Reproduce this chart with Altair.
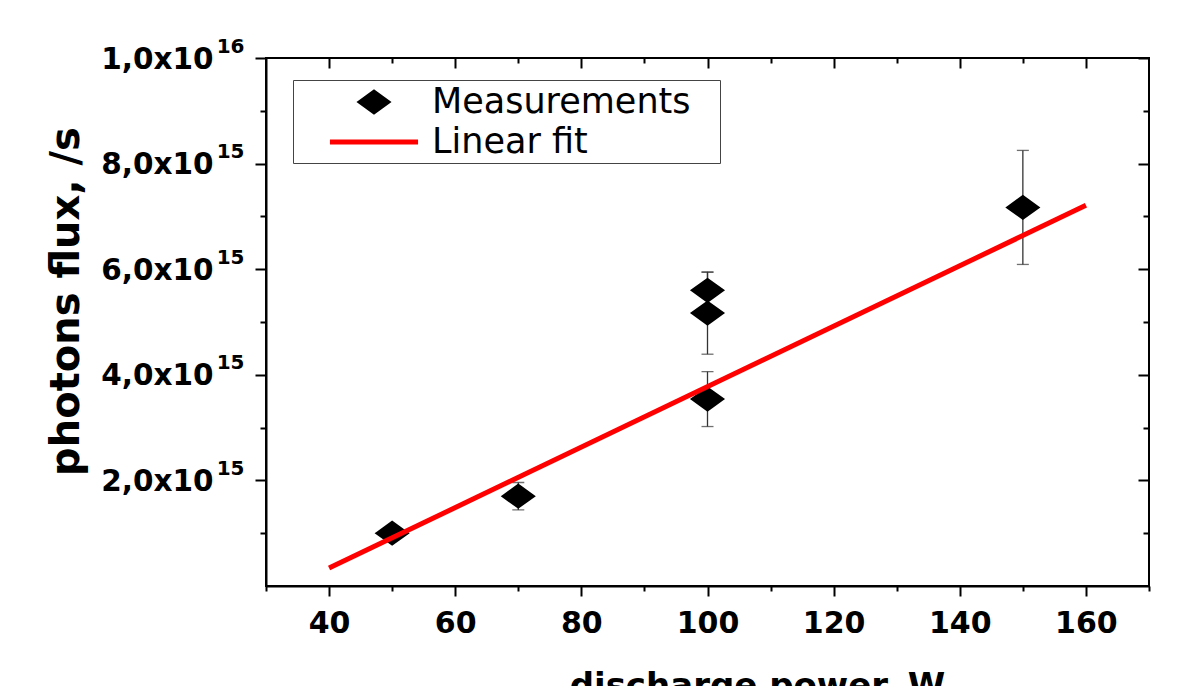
import altair as alt
import pandas as pd

# ---- data ----
x_power = [50, 70, 100, 100, 100, 150]
y_flux = [1.00e15, 1.70e15, 5.60e15, 5.17e15, 3.54e15, 7.17e15]
y_err = [0.08e15, 0.26e15, 0.34e15, 0.78e15, 0.52e15, 1.08e15]

fit_x = [40, 160]
fit_y = [0.34e15, 7.21e15]

series_names = ["Measurements", "Linear fit"]

x_major = [40, 60, 80, 100, 120, 140, 160]
x_minor = [30, 50, 70, 90, 110, 130, 150, 170]
y_major = [2e15, 4e15, 6e15, 8e15, 1e16]
y_minor = [1e15, 3e15, 5e15, 7e15, 9e15]
y_mantissa = ["2,0x10", "4,0x10", "6,0x10", "8,0x10", "1,0x10"]
y_exponent = ["15", "15", "15", "15", "16"]

FONT = "DejaVu Sans"
# diamond drawn with a 5px outline; legend line as a long custom path
DIAMOND = "M-0.804,0L0,-0.579L0.804,0L0,0.579Z"
LINE_SYM = "M-2.67,0L2.67,0"

meas = pd.DataFrame({"power": x_power, "flux": y_flux, "err": y_err,
                     "series": series_names[0]})
fit = pd.DataFrame({"power": fit_x, "flux": fit_y})

vals_js = "[" + ",".join(repr(v) for v in y_major) + "]"
mant_js = "[" + ",".join("'" + s + "'" for s in y_mantissa) + "]"
exp_js = "[" + ",".join("'" + s + "'" for s in y_exponent) + "]"
mant_expr = f"{mant_js}[indexof({vals_js}, datum.value)]"
exp_expr = f"{exp_js}[indexof({vals_js}, datum.value)]"

xs = alt.Scale(domain=[30, 170], nice=False, zero=False)
ys = alt.Scale(domain=[0, 1e16], nice=False, zero=False)

tick_style = dict(tickColor="black", tickWidth=2, grid=False)

x_bottom = alt.Axis(orient="bottom", values=x_major, tickSize=10, domain=True,
                    domainColor="black", domainWidth=2,
                    labelFont=FONT, labelFontSize=30, labelFontWeight="bold",
                    labelColor="black", labelPadding=12, format="d",
                    labelFlush=False, labelOverlap=False,
                    title="discharge power, W", titleFont=FONT, titleFontSize=34,
                    titleFontWeight="bold", titleColor="black", titleX=491,
                    titleY=110, titleBaseline="alphabetic", titleAlign="center",
                    **tick_style)
x_bottom_minor = alt.Axis(orient="bottom", values=x_minor, tickSize=5,
                          labels=False, domain=False, title=None, **tick_style)
x_top_major = alt.Axis(orient="top", values=x_major, tickSize=10, offset=-10,
                       labels=False, domain=False, title=None, **tick_style)
x_top_minor = alt.Axis(orient="top", values=x_minor[1:-1], tickSize=5, offset=-5,
                       labels=False, domain=False, title=None, **tick_style)

y_left = alt.Axis(orient="left", values=y_major, tickSize=11, domain=True,
                  domainColor="black", domainWidth=2, labelExpr=mant_expr,
                  labelFont=FONT, labelFontSize=29.5, labelFontWeight="bold",
                  labelColor="black", labelPadding=42, labelOverlap=False,
                  labelFlush=False, labelOffset=1,
                  title="photons flux, /s", titleFont=FONT, titleFontSize=40,
                  titleFontWeight="bold", titleColor="black", titleAngle=270,
                  titleX=-188, titleY=243, titleBaseline="alphabetic",
                  titleAlign="center", **tick_style)
y_left_sup = alt.Axis(orient="left", values=y_major, ticks=False, tickSize=0,
                      domain=False, labelExpr=exp_expr, labelFont=FONT,
                      labelFontSize=20, labelFontWeight="bold", labelColor="black",
                      labelPadding=22, labelOffset=-12, labelOverlap=False,
                      labelFlush=False, title=None, grid=False)
y_left_minor = alt.Axis(orient="left", values=y_minor, tickSize=6, labels=False,
                        domain=False, title=None, **tick_style)
y_right_major = alt.Axis(orient="right", values=y_major, tickSize=11, offset=-11,
                         labels=False, domain=False, title=None, **tick_style)
y_right_minor = alt.Axis(orient="right", values=y_minor, tickSize=6, offset=-6,
                         labels=False, domain=False, title=None, **tick_style)


def make_legend():
    return alt.Legend(
        title=None, orient="none", legendX=27, legendY=22, padding=3, rowPadding=1,
        symbolOffset=59, labelOffset=39, symbolSize=1089, symbolStrokeWidth=5,
        symbolOpacity=1,
        labelFont=FONT, labelFontSize=35, labelColor="black", labelLimit=800,
        labelExpr="datum.label + '\u2800'", strokeColor="#444444",
        fillColor="white",
    )


base = alt.Chart(meas).transform_calculate(
    lo="datum.flux - datum.err", hi="datum.flux + datum.err")

bars = base.mark_rule(color="#333333", strokeWidth=1.3).encode(
    x=alt.X("power:Q", scale=xs, axis=x_bottom),
    y=alt.Y("lo:Q", scale=ys, axis=y_left),
    y2="hi:Q",
)

caps = base.transform_fold(["lo", "hi"], as_=["end", "val"]).mark_tick(
    orient="horizontal", size=12, thickness=1.3, color="#333333").encode(
    x=alt.X("power:Q", scale=xs, axis=x_bottom_minor),
    y=alt.Y("val:Q", scale=ys, axis=y_left_minor),
)

points = alt.Chart(meas).mark_point(filled=True, size=1089, opacity=1,
                                    strokeWidth=5).encode(
    x=alt.X("power:Q", scale=xs, axis=x_top_major),
    y=alt.Y("flux:Q", scale=ys, axis=y_left_sup),
    fill=alt.Fill("series:N", scale=alt.Scale(domain=series_names,
                                              range=["black", "black"]),
                  legend=make_legend()),
    stroke=alt.Stroke("series:N", scale=alt.Scale(domain=series_names,
                                                  range=["black", "#ff0000"]),
                      legend=make_legend()),
    shape=alt.Shape("series:N", scale=alt.Scale(domain=series_names,
                                                range=[DIAMOND, LINE_SYM]),
                    legend=make_legend()),
)

line = alt.Chart(fit).mark_line(strokeWidth=5, color="#ff0000").encode(
    x=alt.X("power:Q", scale=xs, axis=x_top_minor),
    y=alt.Y("flux:Q", scale=ys, axis=y_right_major),
)

extra = alt.Chart(meas).mark_point(opacity=0).encode(
    x=alt.X("power:Q", scale=xs, axis=None),
    y=alt.Y("flux:Q", scale=ys, axis=y_right_minor),
)

chart = alt.layer(bars, caps, points, line, extra).resolve_axis(
    x="independent", y="independent"
).properties(
    width=883, height=528,
    autosize=alt.AutoSizeParams(type="none"),
    padding={"left": 258, "top": 50, "right": 20, "bottom": 130},
    background="white",
).configure_view(stroke="black", strokeWidth=2)

chart.save("out.html", embed_options={"renderer": "svg", "actions": False})
